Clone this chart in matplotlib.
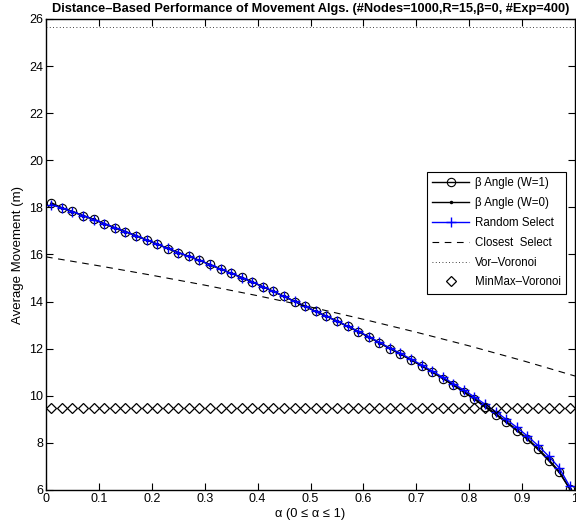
import numpy as np
import matplotlib
matplotlib.use('Agg')
import matplotlib.pyplot as plt

plt.rcParams['font.family'] = ['Liberation Sans', 'DejaVu Sans']

# alpha sample points used by the marker series
alpha = np.round(np.arange(0.01, 1.0, 0.02), 2)

# beta angle, W=1 (circles)
beta_w1 = [18.20, 17.98, 17.83, 17.65, 17.50, 17.30, 17.13, 16.97, 16.80, 16.62,
           16.45, 16.25, 16.08, 15.93, 15.75, 15.58, 15.38, 15.20, 15.03, 14.84,
           14.63, 14.43, 14.22, 14.00, 13.80, 13.58, 13.38, 13.18, 12.95, 12.73,
           12.50, 12.25, 12.00, 11.77, 11.52, 11.27, 11.00, 10.73, 10.45, 10.15,
           9.85, 9.52, 9.20, 8.87, 8.52, 8.15, 7.72, 7.25, 6.75, 6.05]
# beta angle, W=0 (dots)
beta_w0 = [18.15, 17.98, 17.82, 17.65, 17.49, 17.31, 17.14, 16.97, 16.80, 16.62,
           16.44, 16.26, 16.08, 15.92, 15.75, 15.57, 15.38, 15.20, 15.02, 14.83,
           14.63, 14.43, 14.22, 14.01, 13.80, 13.58, 13.38, 13.17, 12.95, 12.73,
           12.50, 12.26, 12.01, 11.77, 11.53, 11.28, 11.02, 10.75, 10.47, 10.18,
           9.88, 9.56, 9.24, 8.91, 8.56, 8.18, 7.77, 7.30, 6.80, 6.05]
# random select (blue +)
rand_sel = [18.12, 17.97, 17.82, 17.65, 17.48, 17.31, 17.14, 16.97, 16.80, 16.62,
            16.44, 16.26, 16.08, 15.92, 15.75, 15.57, 15.38, 15.20, 15.02, 14.83,
            14.63, 14.43, 14.22, 14.01, 13.80, 13.58, 13.38, 13.17, 12.96, 12.74,
            12.51, 12.27, 12.03, 11.80, 11.56, 11.31, 11.05, 10.79, 10.52, 10.24,
            9.95, 9.64, 9.33, 9.00, 8.66, 8.29, 7.89, 7.44, 6.95, 6.15]

# closest select (dashed)
alpha_cs = [0.0, 0.1, 0.2, 0.3, 0.4, 0.5, 0.6, 0.7, 0.8, 0.9, 1.0]
closest_sel = [15.9, 15.52, 15.12, 14.70, 14.25, 13.77, 13.25, 12.70, 12.12, 11.50, 10.84]

# Voronoi based
alpha_vor = [0.0, 1.0]
vor_voronoi = [25.65, 25.65]
minmax_voronoi = [9.5] * len(alpha)

fig = plt.figure(figsize=(5.76, 5.27), dpi=100)
ax = fig.add_axes([46/576., 37/527., 529/576., 471/527.])

ax.plot(alpha, beta_w1, color='k', lw=1.0, marker='o', markersize=6,
        markerfacecolor='none', markeredgewidth=0.8, label=r'β Angle (W=1)')
ax.plot(alpha, beta_w0, color='k', lw=1.0, marker='.', markersize=3,
        label=r'β Angle (W=0)')
ax.plot(alpha, rand_sel, color='b', lw=1.0, marker='+', markersize=7,
        markeredgewidth=1.0, label='Random Select')
ax.plot(alpha_cs, closest_sel, color='k', lw=0.8, linestyle=(0, (6, 5)),
        label='Closest  Select')
ax.plot(alpha_vor, vor_voronoi, color='k', lw=0.6, linestyle=(0, (1, 3)),
        label='Vor–Voronoi')
ax.plot(alpha, minmax_voronoi, linestyle='none', marker='D', markersize=4.6,
        markerfacecolor='none', markeredgecolor='k', markeredgewidth=0.9,
        label='MinMax–Voronoi')

ax.set_xlim(0, 1)
ax.set_ylim(6, 26)
ax.set_xticks(np.arange(0, 1.01, 0.1))
ax.set_xticklabels(['0', '0.1', '0.2', '0.3', '0.4', '0.5', '0.6', '0.7', '0.8', '0.9', '1'])
ax.set_yticks(np.arange(6, 27, 2))
ax.tick_params(direction='in', top=True, right=True, length=5, width=0.8,
               labelsize=9, pad=2)
for s in ax.spines.values():
    s.set_linewidth(1.0)

ax.set_title('Distance–Based Performance of Movement Algs. (#Nodes=1000,R=15,β=0, #Exp=400)',
             fontsize=9.2, fontweight='bold', pad=5)
ax.set_xlabel('α (0 ≤ α ≤ 1)', fontsize=9.3, labelpad=2)
ax.set_ylabel('Average Movement (m)', fontsize=9.5, labelpad=4)

leg = ax.legend(loc='upper right', bbox_to_anchor=(0.983, 0.675), fontsize=8.3,
                fancybox=False, framealpha=1, edgecolor='k', borderaxespad=0,
                handlelength=3.2, labelspacing=0.68, borderpad=0.45, handletextpad=0.5)
leg.get_frame().set_linewidth(0.8)

fig.savefig('out.png', dpi=100)
